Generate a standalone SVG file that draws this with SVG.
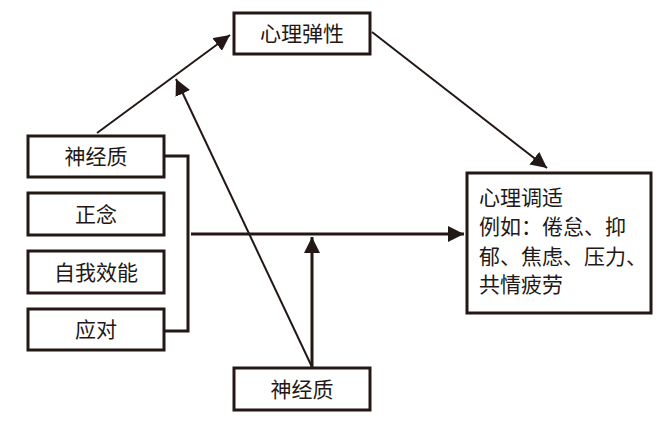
<svg xmlns="http://www.w3.org/2000/svg" width="667" height="421" viewBox="0 0 667 421">
<style>
.box{fill:#fff;stroke:#231815;stroke-width:3}
.t{font-family:"Noto Sans CJK SC","Noto Sans CJK JP",sans-serif;font-size:21px;fill:#231815}
.c{text-anchor:middle}
.thin{fill:none;stroke:#231815;stroke-width:2}
.thick{fill:none;stroke:#231815;stroke-width:3}
</style>
<defs>
<marker id="ah" viewBox="0 0 10 10" refX="10" refY="5" markerWidth="16" markerHeight="16" markerUnits="userSpaceOnUse" orient="auto">
<path d="M0,0 L10,5 L0,10 Z" fill="#231815"/>
</marker>
</defs>
<g id="connectors">
<line class="thin" x1="97" y1="133" x2="230" y2="35" marker-end="url(#ah)"/>
<line class="thin" x1="372" y1="32" x2="547" y2="168" marker-end="url(#ah)"/>
<line class="thin" x1="312" y1="367" x2="176" y2="79" marker-end="url(#ah)"/>
<polyline class="thick" points="164,156 188,156 188,331 164,331"/>
<line class="thick" x1="191" y1="234" x2="464" y2="234" marker-end="url(#ah)"/>
<line class="thick" x1="312" y1="367" x2="312" y2="237" marker-end="url(#ah)"/>
</g>
<g id="n1"><rect class="box" x="28" y="136" width="136" height="41"/><text class="t c" x="96" y="164">神经质</text></g>
<g id="n2"><rect class="box" x="28" y="193" width="136" height="42"/><text class="t c" x="96" y="222">正念</text></g>
<g id="n3"><rect class="box" x="28" y="251" width="136" height="42"/><text class="t c" x="96" y="280">自我效能</text></g>
<g id="n4"><rect class="box" x="28" y="309" width="136" height="41"/><text class="t c" x="96" y="337">应对</text></g>
<g id="resilience"><rect class="box" x="234" y="13" width="136" height="41"/><text class="t c" x="302" y="41">心理弹性</text></g>
<g id="neuro2"><rect class="box" x="234" y="368" width="136" height="42"/><text class="t c" x="302" y="397">神经质</text></g>
<g id="adjust"><rect class="box" x="467" y="173" width="184" height="140"/>
<text class="t" x="479" y="205">心理调适</text>
<text class="t" x="479" y="234">例如：倦怠、抑</text>
<text class="t" x="479" y="264">郁、焦虑、压力、</text>
<text class="t" x="479" y="292">共情疲劳</text>
</g>
</svg>
